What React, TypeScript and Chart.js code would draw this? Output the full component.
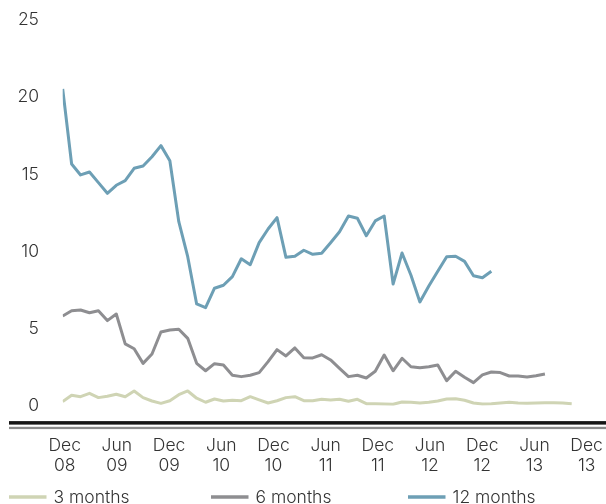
import React, { useEffect, useRef } from 'react';
import { Chart, registerables } from 'chart.js';

Chart.register(...registerables);

// ---- data ----
const SERIES_NAMES = ['3 months', '6 months', '12 months'];

const THREE_MONTHS = [
  0.27, 0.68, 0.59, 0.81, 0.53, 0.62, 0.75, 0.59, 0.96, 0.53,
  0.31, 0.16, 0.33, 0.72, 0.96, 0.49, 0.23, 0.44, 0.31, 0.36,
  0.33, 0.59, 0.38, 0.18, 0.33, 0.53, 0.59, 0.33, 0.33, 0.42,
  0.38, 0.42, 0.29, 0.42, 0.14, 0.14, 0.12, 0.1, 0.25, 0.23,
  0.18, 0.23, 0.31, 0.44, 0.46, 0.36, 0.18, 0.12, 0.14, 0.18,
  0.23, 0.18, 0.16, 0.18, 0.2, 0.2, 0.18, 0.14,
];

const SIX_MONTHS = [
  5.82, 6.16, 6.21, 6.03, 6.16, 5.52, 5.95, 4.01, 3.7, 2.75,
  3.36, 4.78, 4.91, 4.96, 4.37, 2.75, 2.27, 2.73, 2.64, 1.98,
  1.89, 1.98, 2.15, 2.86, 3.64, 3.23, 3.75, 3.12, 3.1, 3.31,
  2.97, 2.43, 1.89, 1.98, 1.8, 2.24, 3.29, 2.27, 3.08, 2.53,
  2.47, 2.53, 2.64, 1.63, 2.24, 1.85, 1.5, 2.0, 2.19, 2.15,
  1.93, 1.93, 1.87, 1.95, 2.06,
];

const TWELVE_MONTHS = [
  20.53, 15.67, 14.96, 15.15, 14.46, 13.77, 14.29, 14.59, 15.39, 15.54,
  16.14, 16.86, 15.88, 11.93, 9.66, 6.6, 6.36, 7.62, 7.81, 8.37,
  9.53, 9.14, 10.57, 11.46, 12.19, 9.62, 9.69, 10.08, 9.82, 9.88,
  10.57, 11.28, 12.3, 12.15, 11.02, 11.98, 12.3, 7.89, 9.9, 8.46,
  6.73, 7.76, 8.72, 9.66, 9.69, 9.36, 8.43, 8.3, 8.72,
];

const TICK_LABELS = [
  ['Dec', '08'], ['Jun', '09'], ['Dec', '09'], ['Jun', '10'], ['Dec', '10'],
  ['Jun', '11'], ['Dec', '11'], ['Jun', '12'], ['Dec', '12'], ['Jun', '13'],
  ['Dec', '13'],
];

const Y_MIN = 0;
const Y_MAX = 25;
const Y_STEP = 5;

// ---- styling / layout constants ----
const COLORS = ['#cfd4b4', '#8e8e91', '#6d9fb5'];
const FONT_FAMILY = "Inter, Roboto, 'Liberation Sans', Arial, sans-serif";
const FONT_SIZE = 17.5;
const TEXT_COLOR = '#333333';
const TICK_OFFSET = 0.22;
const TICK_STEP = 5.845;
const LEGEND_X = [9, 211, 408];
const LEGEND_Y = 497.5;

const toPoints = (arr: number[]) => arr.map((v, i) => ({ x: i, y: v }));

const axisLinesPlugin = {
  id: 'axisLines',
  afterDraw(chart: any) {
    const { ctx, chartArea } = chart;
    ctx.save();
    ctx.fillStyle = '#151515';
    ctx.fillRect(9, chartArea.bottom + 15.3, 597, 3.5);
    ctx.fillStyle = '#8a8a8a';
    ctx.fillRect(9, chartArea.bottom + 21, 597, 2.3);
    ctx.restore();
  },
};

const legendPlugin = {
  id: 'customLegend',
  afterDraw(chart: any) {
    const { ctx } = chart;
    ctx.save();
    ctx.font = `300 ${FONT_SIZE}px ${FONT_FAMILY}`;
    ctx.textBaseline = 'middle';
    ctx.textAlign = 'left';
    chart.data.datasets.forEach((ds: any, i: number) => {
      const x = LEGEND_X[i];
      ctx.strokeStyle = ds.borderColor;
      ctx.lineWidth = 3.4;
      ctx.beginPath();
      ctx.moveTo(x, 497);
      ctx.lineTo(x + 37.5, 497);
      ctx.stroke();
      ctx.fillStyle = TEXT_COLOR;
      ctx.fillText(ds.label, x + 44.5, LEGEND_Y);
    });
    ctx.restore();
  },
};

export default function App() {
  const canvasRef = useRef<HTMLCanvasElement | null>(null);

  useEffect(() => {
    if (!canvasRef.current) return;
    const series = [THREE_MONTHS, SIX_MONTHS, TWELVE_MONTHS];
    const chart = new Chart(canvasRef.current, {
      type: 'line',
      data: {
        datasets: series.map((s, i) => ({
          label: SERIES_NAMES[i],
          data: toPoints(s),
          borderColor: COLORS[i],
          backgroundColor: COLORS[i],
          borderWidth: 3,
          pointRadius: 0,
          tension: 0,
          fill: false,
          borderJoinStyle: 'round' as const,
        })),
      },
      options: {
        responsive: false,
        animation: false,
        layout: { padding: { top: 20, right: 7.5, bottom: 0, left: 0 } },
        plugins: {
          legend: { display: false },
          tooltip: { enabled: false },
        },
        scales: {
          x: {
            type: 'linear',
            min: 0,
            max: 60,
            grid: { display: false, drawTicks: false },
            border: { display: false },
            ticks: {
              autoSkip: false,
              maxRotation: 0,
              padding: 30.5,
              color: TEXT_COLOR,
              font: { family: FONT_FAMILY, size: FONT_SIZE, weight: '300' as any, lineHeight: 1.103 },
              callback: (_v: any, i: number) => TICK_LABELS[i] as any,
            },
            afterBuildTicks: (scale: any) => {
              scale.ticks = TICK_LABELS.map((_, k) => ({ value: TICK_OFFSET + k * TICK_STEP }));
            },
            afterFit: (scale: any) => {
              scale.height = 98.2;
              scale.paddingLeft = 0;
              scale.paddingRight = 0;
            },
          },
          y: {
            min: Y_MIN,
            max: Y_MAX,
            grid: { display: false, drawTicks: false },
            border: { display: false },
            ticks: {
              stepSize: Y_STEP,
              padding: 23.7,
              color: TEXT_COLOR,
              font: { family: FONT_FAMILY, size: FONT_SIZE, weight: '300' as any },
            },
            afterFit: (scale: any) => {
              scale.width = 62.7;
              scale.paddingTop = 0;
              scale.paddingBottom = 0;
            },
          },
        },
      },
      plugins: [axisLinesPlugin, legendPlugin],
    });
    return () => chart.destroy();
  }, []);

  return (
    <div style={{ position: 'fixed', left: 0, top: 0, width: 606, height: 504, background: '#fff' }}>
      <canvas ref={canvasRef} width={606} height={504} style={{ display: 'block' }} />
    </div>
  );
}
